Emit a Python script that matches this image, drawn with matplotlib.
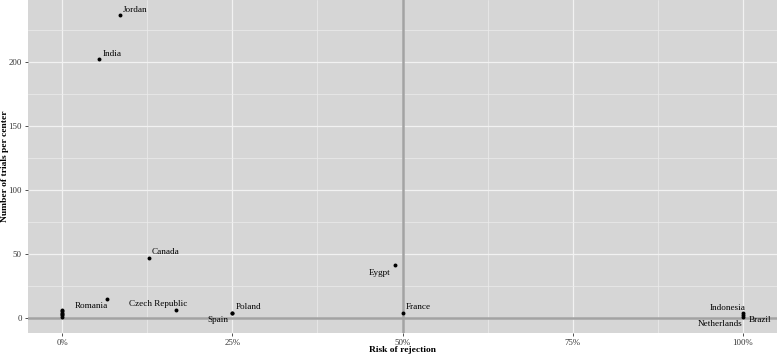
import matplotlib
matplotlib.use("Agg")
import matplotlib.pyplot as plt
from matplotlib.ticker import FixedLocator, FuncFormatter

# Data
countries = ["Jordan", "India", "Canada", "Romania", "Czech Republic", "Poland", "Spain",
             "Eygpt", "France", "Indonesia", "Netherlands", "Brazil"]
risk = [0.0845, 0.054, 0.127, 0.066, 0.167, 0.25, 0.25, 0.4885, 0.5, 1.0, 1.0, 1.0]
trials = [237, 203, 47, 15, 6, 4, 4, 41, 4, 4, 1, 2]
unlabeled_risk = [0, 0, 0, 0, 0, 0]
unlabeled_trials = [1, 2, 3, 4, 5, 6]
x_ticks = [0, 0.25, 0.5, 0.75, 1.0]
y_ticks = [0, 50, 100, 150, 200]

# label placement (pixel offsets dx, dy-up, horizontal alignment)
label_style = {
    "Jordan": (3, 5.5, "left"),
    "India": (4, 5, "left"),
    "Canada": (3, 6, "left"),
    "Romania": (1, -7, "right"),
    "Czech Republic": (12, 6, "right"),
    "Poland": (3, 6, "left"),
    "Spain": (-4, -7, "right"),
    "Eygpt": (-4, -7.5, "right"),
    "France": (3.5, 6, "left"),
    "Indonesia": (3, 5, "right"),
    "Netherlands": (0, -7, "right"),
    "Brazil": (6, -5, "left"),
}

plt.rcParams["font.family"] = ["Liberation Serif", "DejaVu Serif"]

fig = plt.figure(figsize=(7.77, 3.57), dpi=100)
ax = fig.add_axes([28/777, 1 - 333/357, 1 - 28/777, 333/357])
ax.set_facecolor("#d6d6d6")

ymin, ymax = 0, 237
span = ymax - ymin
ax.set_xlim(-0.05, 1.05)
ax.set_ylim(ymin - 0.05*span, ymax + 0.05*span)

ax.xaxis.set_major_locator(FixedLocator(x_ticks))
ax.xaxis.set_minor_locator(FixedLocator([0.125, 0.375, 0.625, 0.875]))
ax.yaxis.set_major_locator(FixedLocator(y_ticks))
ax.yaxis.set_minor_locator(FixedLocator([25, 75, 125, 175, 225]))
ax.xaxis.set_major_formatter(FuncFormatter(lambda v, p: f"{int(round(v*100))}%"))

ax.grid(which="major", color="#f2f2f2", linewidth=0.9)
ax.grid(which="minor", color="#ececec", linewidth=0.5)
ax.set_axisbelow(True)
for s in ax.spines.values():
    s.set_visible(False)

ax.tick_params(which="major", length=2.5, width=0.6, color="#333333",
               labelsize=6.3, labelcolor="#333333", pad=2)
ax.tick_params(which="minor", length=0)

ax.axhline(0, color="#a3a3a3", linewidth=1.8, zorder=2)
ax.axvline(0.5, color="#a3a3a3", linewidth=1.8, zorder=2)

ax.scatter(risk, trials, s=8, color="black", zorder=3, linewidths=0)
ax.scatter(unlabeled_risk, unlabeled_trials, s=8, color="black", zorder=3, linewidths=0)

for c, xv, yv in zip(countries, risk, trials):
    dx, dy, ha = label_style[c]
    ax.annotate(c, (xv, yv), xytext=(dx*0.72, dy*0.72), textcoords="offset points",
                ha=ha, va="center", fontsize=6.6, color="black", zorder=4)

ax.set_xlabel("Risk of rejection", fontsize=6.8, fontweight="bold", va="center")
ax.xaxis.set_label_coords(0.5, (333 - 350.5) / 333)
ax.set_ylabel("Number of trials per center", fontsize=6.8, fontweight="bold", va="center")
ax.yaxis.set_label_coords((5.5 - 28) / 749, 0.5)

fig.savefig("out.png", dpi=100)
